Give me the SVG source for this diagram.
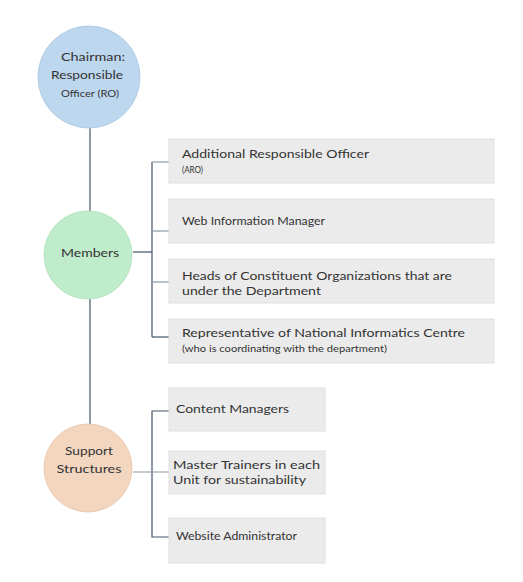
<svg xmlns="http://www.w3.org/2000/svg" width="523" height="582" viewBox="0 0 523 582">
<style>
.bg{fill:#ffffff}
.box{fill:#ebebeb;stroke:#e0e0e0;stroke-width:1}
.t{font-family:Lato,"Open Sans","Liberation Sans",sans-serif;fill:#333333;font-size:12px}
.s{font-size:9px}
.c{text-anchor:middle}
.dark{stroke:#44546a;stroke-width:1.2;fill:none}
.light{stroke:#8d9ca6;stroke-width:1.2;fill:none}
</style>
<rect class="bg" x="0" y="0" width="523" height="582"/>
<g id="connectors">
<line class="dark" x1="90" y1="127" x2="90" y2="212"/>
<line class="dark" x1="90" y1="299" x2="90" y2="424"/>
<line class="dark" x1="133" y1="252" x2="152" y2="252"/>
<polyline class="dark" points="152,162 152,337"/>
<line class="light" x1="152" y1="162" x2="169" y2="162"/>
<line class="light" x1="152" y1="231" x2="169" y2="231"/>
<line class="light" x1="152" y1="282" x2="169" y2="282"/>
<line class="dark" x1="152" y1="337" x2="169" y2="337"/>
<polyline class="dark" points="174,411 152,411 152,537 172,537"/>
<line class="light" x1="133" y1="472" x2="169" y2="472"/>
</g>
<g id="chairman">
<circle cx="89" cy="77" r="51" fill="#bdd7ee" stroke="#b0cde6" stroke-width="1"/>
<text class="t c" x="93" y="61" font-size="12.5" textLength="64" lengthAdjust="spacingAndGlyphs">Chairman:</text>
<text class="t c" x="87" y="79" font-size="12.5" textLength="72" lengthAdjust="spacingAndGlyphs">Responsible</text>
<text class="t c s" x="90" y="97" style="font-size:10px" textLength="58" lengthAdjust="spacingAndGlyphs">Officer (RO)</text>
</g>
<g id="members">
<circle cx="88" cy="255" r="44" fill="#bfeccb" stroke="#b3e4c0" stroke-width="1"/>
<text class="t c" x="90" y="257" textLength="58" lengthAdjust="spacingAndGlyphs">Members</text>
</g>
<g id="support">
<circle cx="88" cy="468" r="44" fill="#f2d6c0" stroke="#ebcbb3" stroke-width="1"/>
<text class="t c" x="89" y="455" textLength="48" lengthAdjust="spacingAndGlyphs">Support</text>
<text class="t c" x="89" y="473" textLength="65" lengthAdjust="spacingAndGlyphs">Structures</text>
</g>
<g id="aro">
<rect class="box" x="169" y="139" width="325" height="44"/>
<text class="t" x="182" y="158" textLength="187" lengthAdjust="spacingAndGlyphs">Additional Responsible Officer</text>
<text class="t s" x="182" y="173" textLength="21" lengthAdjust="spacingAndGlyphs">(ARO)</text>
</g>
<g id="wim">
<rect class="box" x="169" y="199" width="325" height="44"/>
<text class="t" x="182" y="225" textLength="143" lengthAdjust="spacingAndGlyphs">Web Information Manager</text>
</g>
<g id="heads">
<rect class="box" x="169" y="259" width="325" height="44"/>
<text class="t" x="182" y="280" textLength="270" lengthAdjust="spacingAndGlyphs">Heads of Constituent Organizations that are</text>
<text class="t" x="182" y="295" textLength="139" lengthAdjust="spacingAndGlyphs">under the Department</text>
</g>
<g id="nic">
<rect class="box" x="169" y="319" width="325" height="44"/>
<text class="t" x="182" y="337" textLength="283" lengthAdjust="spacingAndGlyphs">Representative of National Informatics Centre</text>
<text class="t s" x="182" y="352" textLength="205" lengthAdjust="spacingAndGlyphs">(who is coordinating with the department)</text>
</g>
<g id="content">
<rect class="box" x="169" y="388" width="156" height="43"/>
<text class="t" x="176" y="413" textLength="113" lengthAdjust="spacingAndGlyphs">Content Managers</text>
</g>
<g id="trainers">
<rect class="box" x="169" y="451" width="156" height="43"/>
<text class="t" x="173" y="469" textLength="147" lengthAdjust="spacingAndGlyphs">Master Trainers in each</text>
<text class="t" x="173" y="484" textLength="133" lengthAdjust="spacingAndGlyphs">Unit for sustainability</text>
</g>
<g id="admin">
<rect class="box" x="169" y="518" width="156" height="45"/>
<text class="t" x="176" y="540" style="font-size:11px" textLength="121" lengthAdjust="spacingAndGlyphs">Website Administrator</text>
</g>
</svg>
